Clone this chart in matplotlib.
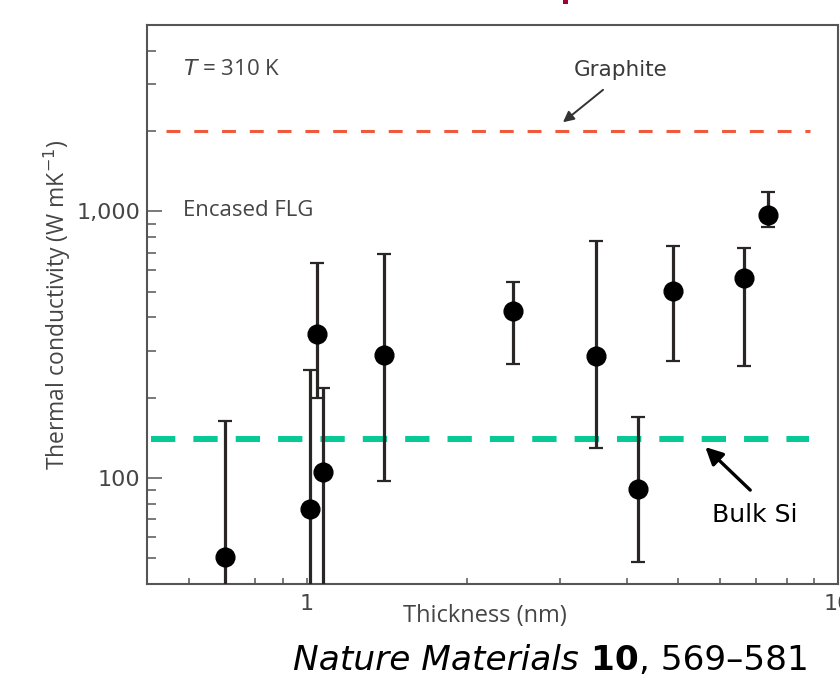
import matplotlib
matplotlib.use("Agg")
import matplotlib.pyplot as plt
import numpy as np
from matplotlib.ticker import FixedLocator, NullFormatter, LogLocator
from matplotlib.patches import Rectangle

# Encased few-layer graphene, thermal conductivity vs thickness (T = 310 K)
thickness = [0.70, 1.013, 1.044, 1.072, 1.396, 2.44, 3.50, 4.20, 4.89, 6.65, 7.38]
kappa = [50.6, 76.5, 346, 105, 289, 422, 286, 91, 502, 561, 966]
kappa_hi = [163, 254, 639, 217, 690, 542, 772, 169, 739, 727, 1177]
kappa_lo = [20, 20, 199.5, 20, 97.5, 267, 129, 48.4, 274, 263, 871]

graphite_k = 2000
bulk_si_k = 140
graphite_span = [0.544, 8.86]
si_span = [0.508, 8.82]

gray = "#454545"

fig = plt.figure(figsize=(8.4, 6.9), dpi=100)
ax = fig.add_axes([0.175, 0.1536, 0.8226, 0.8102])

ax.set_xscale("log")
ax.set_yscale("log")
ax.set_xlim(0.5, 10)
ax.set_ylim(40, 5000)

# reference lines
lw_g = 2.2
ax.plot(graphite_span, [graphite_k, graphite_k], color="#ef5a3c", lw=lw_g,
        dashes=(10 / lw_g, 10 / lw_g))
lw_s = 4.3
ax.plot(si_span, [bulk_si_k, bulk_si_k], color="#06c995", lw=lw_s,
        dashes=(17.5 / lw_s, 13 / lw_s))

# data with error bars
k = np.array(kappa)
yerr = [k - np.array(kappa_lo), np.array(kappa_hi) - k]
ax.errorbar(thickness, kappa, yerr=yerr, fmt="o", color="black", ms=13.5,
            ecolor="#2b2626", elinewidth=2.3, capsize=5, capthick=1.6, zorder=3)

# spines and ticks
for s in ax.spines.values():
    s.set_color("#555555")
    s.set_linewidth(1.5)

ax.yaxis.set_major_locator(FixedLocator([100, 1000]))
ax.set_yticklabels(["100", "1,000"])
ax.yaxis.set_minor_locator(LogLocator(base=10, subs=np.arange(2, 10)))
ax.yaxis.set_minor_formatter(NullFormatter())
ax.xaxis.set_major_locator(FixedLocator([1, 10]))
ax.set_xticklabels(["1", "10"])
ax.xaxis.set_minor_locator(LogLocator(base=10, subs=np.arange(2, 10)))
ax.xaxis.set_minor_formatter(NullFormatter())

ax.tick_params(axis="y", which="major", direction="in", length=11, width=1.1,
               color="#555555", labelsize=16, labelcolor=gray, pad=5)
ax.tick_params(axis="y", which="minor", direction="in", length=6.5, width=1.1,
               color="#555555")
ax.tick_params(axis="x", which="both", direction="in", length=4, width=1.1,
               color="#555555", labelsize=16, labelcolor=gray, pad=7)
for lab in ax.get_xticklabels() + ax.get_yticklabels():
    lab.set_family("DejaVu Sans")

ax.set_ylabel("Thermal conductivity (W mK$^{-1}$)", fontsize=16.5, color=gray,
              family="Open Sans", labelpad=2)
ax.set_xlabel("Thickness (nm)", fontsize=17, color=gray, family="Open Sans")
ax.xaxis.set_label_coords(0.489, -0.036)

# annotations
ax.text(0.052, 0.9195, "$\\it{T}$ = 310 K", transform=ax.transAxes, fontsize=16,
        color=gray, family="Open Sans", va="center")
ax.text(0.052, 0.668, "Encased FLG", transform=ax.transAxes, fontsize=16,
        color=gray, family="Open Sans", va="center")
ax.text(0.685, 0.9195, "Graphite", transform=ax.transAxes, fontsize=15.5,
        color="#3a3a3a", family="DejaVu Sans", ha="center", va="center")
ax.annotate("", xy=(0.602, 0.826), xytext=(0.660, 0.884), xycoords="axes fraction",
            arrowprops=dict(arrowstyle="-|>", color="#333333", lw=1.4,
                            mutation_scale=16, shrinkA=0, shrinkB=0))
ax.text(0.879, 0.123, "Bulk Si", transform=ax.transAxes, fontsize=18,
        color="black", family="DejaVu Sans", ha="center", va="center")
ax.annotate("", xy=(0.808, 0.245), xytext=(0.873, 0.168), xycoords="axes fraction",
            arrowprops=dict(arrowstyle="-|>", color="black", lw=2.4,
                            mutation_scale=26, shrinkA=0, shrinkB=0))

# source caption, built from pieces so each keeps its own style
cap_kw = dict(fontsize=24.75, color="black", family="DejaVu Sans", va="baseline")
t1 = fig.text(0.349, 0.029, "Nature Materials", style="italic", **cap_kw)
t2 = fig.text(0, 0, " 10", weight="bold", **cap_kw)
t3 = fig.text(0, 0, ", 569–581", **cap_kw)
fig.canvas.draw()
r = fig.canvas.get_renderer()
inv = fig.transFigure.inverted()
x1 = inv.transform((t1.get_window_extent(r).x1, 0))[0]
t2.set_position((x1, 0.029))
x2 = inv.transform((t2.get_window_extent(r).x1, 0))[0]
t3.set_position((x2, 0.029))

# fragment of the heading cut off above the figure
fig.add_artist(Rectangle((0.670, 0.994), 0.006, 0.006, transform=fig.transFigure,
                         color="#a0003a", lw=0))

fig.savefig("out.png", dpi=100)
